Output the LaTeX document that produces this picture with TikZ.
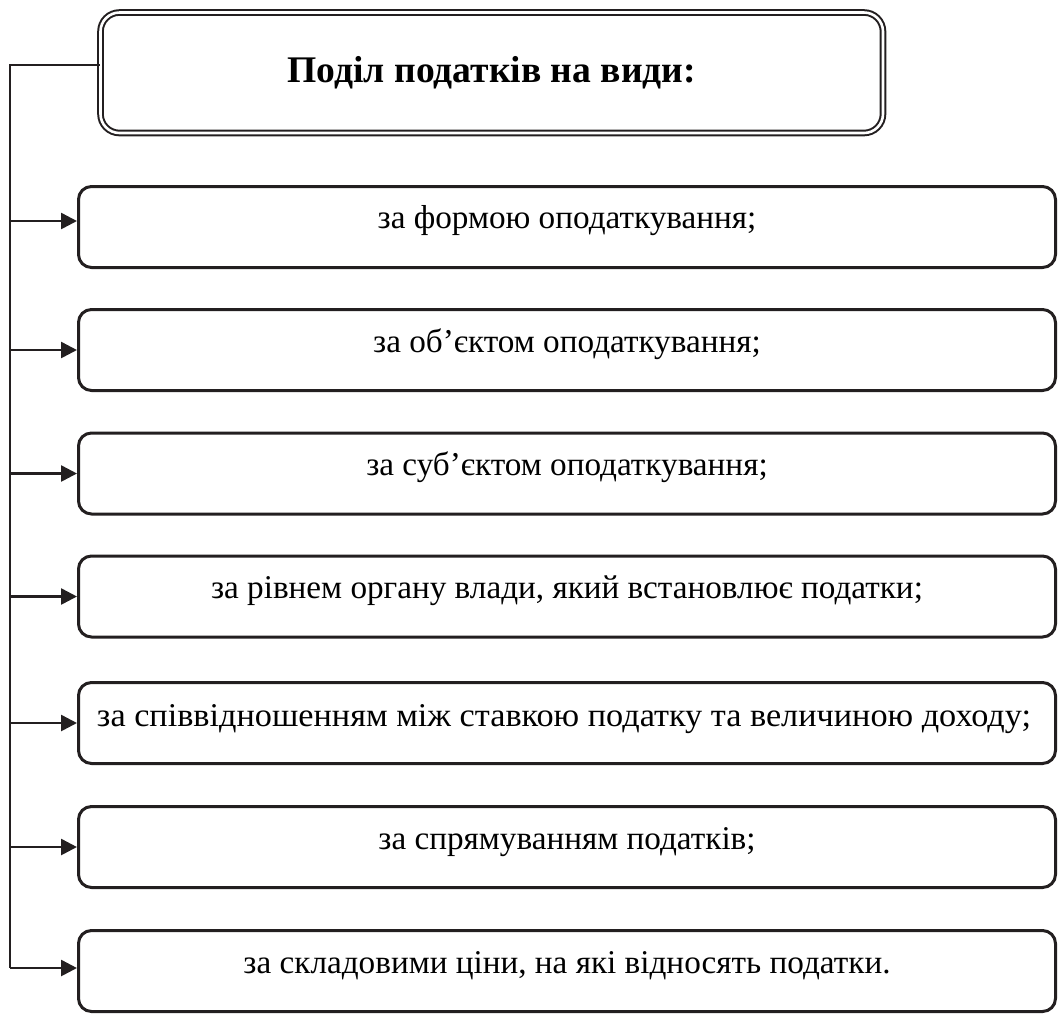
\documentclass[tikz,border=0pt]{standalone}
\usepackage{fontspec}
\usepackage{graphicx}
\setmainfont{Liberation Serif}
\usetikzlibrary{arrows.meta}
\definecolor{ink}{RGB}{35,31,32}
\begin{document}
\begin{tikzpicture}[x=0.5pt,y=-0.5pt,
  kindbox/.style={draw=ink, line width=1.5pt, rounded corners=6.5pt,
    minimum width=488.5pt, minimum height=40.5pt, inner sep=0pt},
  kindtext/.style={anchor=base, inner sep=0pt, text=black,
    font=\fontsize{16.6}{18}\selectfont},
  headbox/.style={draw=ink, double=white, line width=1pt,
    double distance=1.3pt, rounded corners=9.5pt,
    minimum width=391.25pt, minimum height=60.25pt, inner sep=0pt},
  headtext/.style={anchor=base, inner sep=0pt, text=black,
    font=\bfseries\fontsize{18.8}{21}\selectfont},
  link/.style={draw=ink, line width=1.3pt},
  arr/.style={link, -{Triangle[length=8pt,width=8pt]}}]
\useasboundingbox (0,0) rectangle (1060,1014);

% heading
\node[headbox] (head) at (491.75,72.75) {};
\node[headtext] (headlbl) at ([yshift=-4.75pt]head.center) {Поділ податків на види:};

% kinds of taxes
\node[kindbox] (b1) at (567,227) {};
\node[kindbox] (b2) at (567,350) {};
\node[kindbox] (b3) at (567,473.5) {};
\node[kindbox] (b4) at (567,596.5) {};
\node[kindbox] (b5) at (567,723) {};
\node[kindbox] (b6) at (567,847) {};
\node[kindbox] (b7) at (567,971) {};

\node[kindtext] (t1) at ([yshift=-0.5pt]b1.center) {за формою оподаткування;};
\node[kindtext] (t2) at ([yshift=-1pt]b2.center) {за об’єктом оподаткування;};
\node[kindtext] (t3) at ([yshift=-1pt]b3.center) {за суб’єктом оподаткування;};
\node[kindtext] (t4) at ([yshift=-1pt]b4.center) {за рівнем органу влади, який встановлює податки;};
\node[kindtext] (t5) at ([xshift=-1.5pt,yshift=-1.5pt]b5.center)
  {\resizebox{467pt}{\height}{за співвідношенням між ставкою податку та величиною доходу;}};
\node[kindtext] (t6) at ([yshift=-1pt]b6.center) {за спрямуванням податків;};
\node[kindtext] (t7) at ([yshift=-1pt]b7.center) {за складовими ціни, на які відносять податки.};

% trunk line on the left
\coordinate (trunktop) at (10,65);
\coordinate (a1) at ([yshift=3pt]b1.west);
\coordinate (a7) at ([yshift=1.5pt]b7.west);
\draw[link] (head.west |- trunktop) -- (trunktop) -- (trunktop |- a7);

% arrows into the boxes
\draw[arr] (trunktop |- a1) -- (a1);
\foreach \i in {2,...,6}
  \draw[arr] (trunktop |- b\i.west) -- (b\i.west);
\draw[arr] (trunktop |- a7) -- (a7);
\end{tikzpicture}
\end{document}
